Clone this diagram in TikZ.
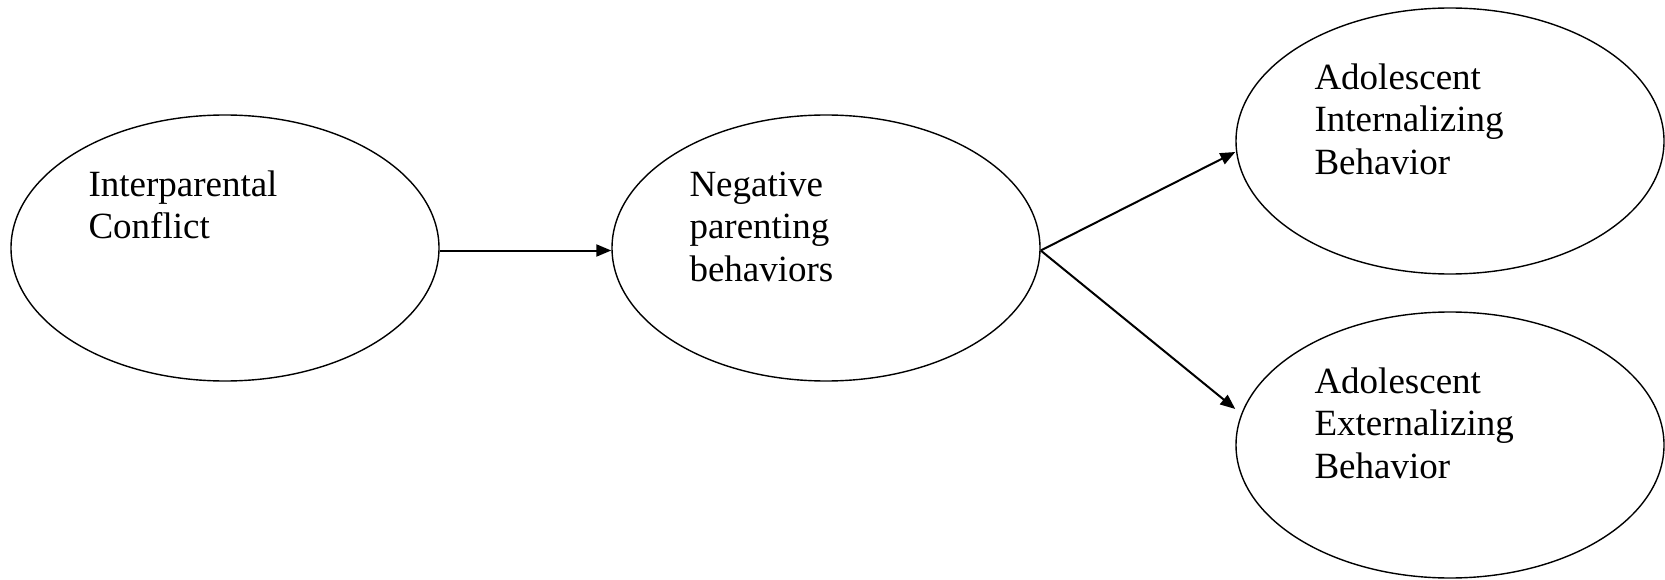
\documentclass[tikz,border=0pt]{standalone}
\usepackage{fontspec}
\setmainfont{Liberation Serif}
\usetikzlibrary{shapes.geometric,arrows.meta,calc}
\tikzset{
  oval/.style={draw=black, line width=1.4pt, ellipse, minimum width=428pt, minimum height=266pt, inner sep=0pt},
  lbl/.style={anchor=base west, inner sep=0pt, text width=330pt, align=left, font=\fontsize{37}{42.5}\selectfont},
  arr/.style={line width=2pt, -{Triangle[length=15pt,width=12pt]}}
}
\begin{document}
\begin{tikzpicture}[x=1pt,y=-1pt]
\useasboundingbox (0,0) rectangle (1665,580);
\node[oval] (a) at (225,248) {};
\node[oval] (b) at (826,248) {};
\node[oval] (c) at (1450,141) {};
\node[oval] (d) at (1450,445) {};
\node[lbl] (ta) at ($(a.west |- a.north)+(78,82)$) {Interparental\\Conflict};
\node[lbl] (tb) at ($(b.west |- b.north)+(78,82)$) {Negative\\parenting\\behaviors};
\node[lbl] (tc) at ($(c.west |- c.north)+(79,82)$) {Adolescent\\Internalizing\\Behavior};
\node[lbl] (td) at ($(d.west |- d.north)+(79,82)$) {Adolescent\\Externalizing\\Behavior};
\draw[arr] ([yshift=-2.5pt]a.east) -- ([yshift=-2.5pt]b.west);
\draw[arr] ([yshift=-2.5pt]b.east) -- ([yshift=-11pt]c.west);
\draw[arr] ([yshift=-2.5pt]b.east) -- ([yshift=36pt]d.west);
\end{tikzpicture}
\end{document}
